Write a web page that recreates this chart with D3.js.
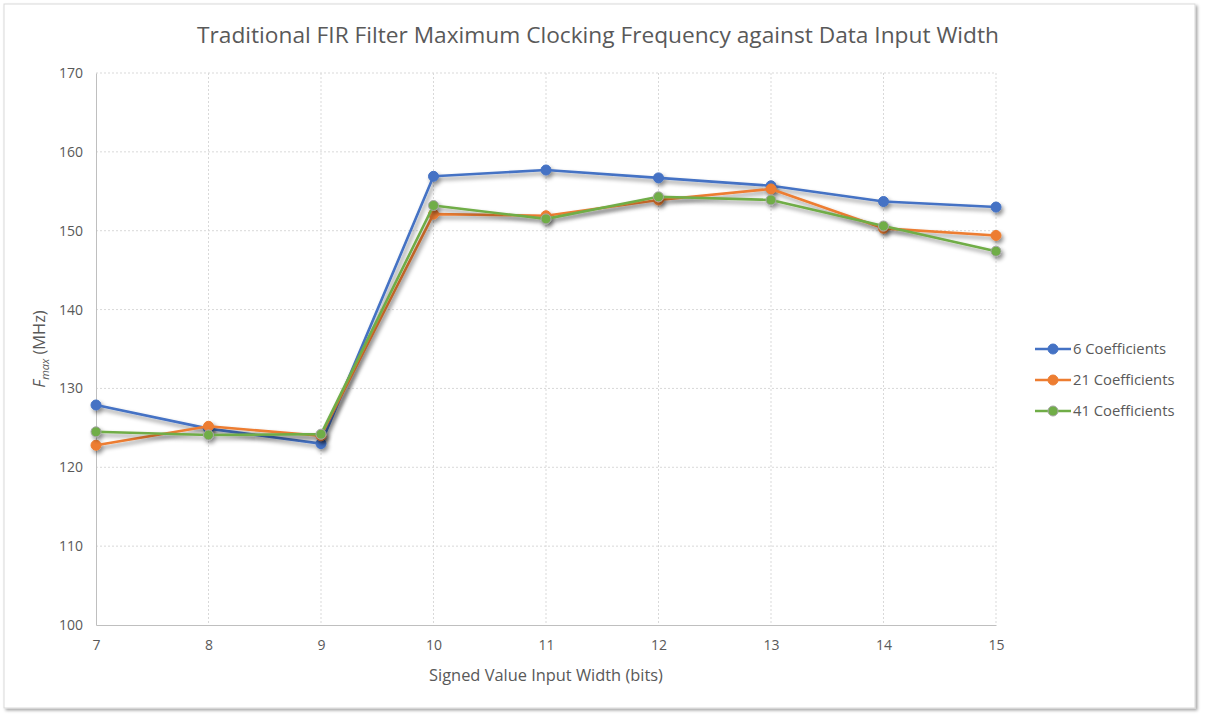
<!DOCTYPE html>
<html>
<head>
<meta charset="utf-8">
<script src="https://cdn.jsdelivr.net/npm/d3@7"></script>
<style>
  body { margin: 0; background: #fff; }
  text { font-family: "Open Sans", "Liberation Sans", sans-serif; fill: #595959; }
</style>
</head>
<body>
<div id="chart"></div>
<script>
// data
var widths = [7, 8, 9, 10, 11, 12, 13, 14, 15];
var coef6  = [127.9, 124.9, 123.0, 156.9, 157.7, 156.7, 155.7, 153.7, 153.0];
var coef21 = [122.8, 125.2, 124.0, 152.1, 151.9, 153.9, 155.3, 150.3, 149.4];
var coef41 = [124.5, 124.1, 124.2, 153.2, 151.5, 154.3, 153.9, 150.6, 147.4];
var yTicks = [100, 110, 120, 130, 140, 150, 160, 170];

var series = [
  { name: "6 Coefficients",  vals: coef6,  color: "#4472c4", ring: "#4472c4" },
  { name: "21 Coefficients", vals: coef21, color: "#ed7d31", ring: "#ed7d31" },
  { name: "41 Coefficients", vals: coef41, color: "#70ad47", ring: "#a5a5a5" }
];

var W = 1206, H = 720;
var margin = {top: 73, left: 96},
    width = 900,
    height = 552;

var svg = d3.select("#chart").append("svg")
    .attr("width", W)
    .attr("height", H);

var defs = svg.append("defs");
var shadow = defs.append("filter").attr("id", "shadow")
    .attr("x", "-20%").attr("y", "-20%").attr("width", "150%").attr("height", "150%");
shadow.append("feDropShadow")
    .attr("dx", 2).attr("dy", 3).attr("stdDeviation", 2)
    .attr("flood-color", "#000").attr("flood-opacity", 0.45);

var frameShadow = defs.append("filter").attr("id", "frameShadow")
    .attr("x", "-5%").attr("y", "-5%").attr("width", "110%").attr("height", "110%");
frameShadow.append("feDropShadow")
    .attr("dx", 2).attr("dy", 2).attr("stdDeviation", 1.5)
    .attr("flood-color", "#000").attr("flood-opacity", 0.35);

// chart frame
svg.append("rect")
    .attr("x", 4).attr("y", 4).attr("width", 1191).attr("height", 704)
    .attr("fill", "#fff").attr("stroke", "#d9d9d9").attr("stroke-width", 1)
    .attr("filter", "url(#frameShadow)");

var g = svg.append("g")
    .attr("transform", "translate(" + margin.left + "," + margin.top + ")");

var x = d3.scaleLinear().domain([7, 15]).range([0, width]);
var y = d3.scaleLinear().domain([100, 170]).range([height, 0]);

// gridlines
g.append("g").selectAll("line.h")
    .data(yTicks.slice(1))
  .enter().append("line")
    .attr("x1", 0).attr("x2", width)
    .attr("y1", function(d) { return y(d); })
    .attr("y2", function(d) { return y(d); })
    .attr("stroke", "#d9d9d9").attr("stroke-dasharray", "2,2");

g.append("g").selectAll("line.v")
    .data(widths.slice(1))
  .enter().append("line")
    .attr("y1", 0).attr("y2", height)
    .attr("x1", function(d) { return x(d); })
    .attr("x2", function(d) { return x(d); })
    .attr("stroke", "#d9d9d9").attr("stroke-dasharray", "2,2");

// axes
var xAxis = g.append("g")
    .attr("transform", "translate(0," + height + ")")
    .call(d3.axisBottom(x).tickValues(widths).tickSize(0).tickPadding(15).tickFormat(d3.format("d")));
xAxis.select(".domain").attr("stroke", "#bfbfbf");
xAxis.selectAll("text").style("font-size", "14px").attr("fill", "#595959");

var yAxis = g.append("g")
    .call(d3.axisLeft(y).tickValues(yTicks).tickSize(0).tickPadding(13));
yAxis.select(".domain").attr("stroke", "#bfbfbf");
yAxis.selectAll("text").style("font-size", "14px").attr("fill", "#595959");

// lines
var line = d3.line()
    .x(function(d, i) { return x(widths[i]); })
    .y(function(d) { return y(d); });

series.forEach(function(s) {
  var sg = g.append("g").attr("filter", "url(#shadow)");
  sg.append("path")
      .datum(s.vals)
      .attr("fill", "none")
      .attr("stroke", s.color)
      .attr("stroke-width", 2.6)
      .attr("stroke-linejoin", "round")
      .attr("d", line);
  sg.selectAll("circle")
      .data(s.vals)
    .enter().append("circle")
      .attr("cx", function(d, i) { return x(widths[i]); })
      .attr("cy", function(d) { return y(d); })
      .attr("r", 5)
      .attr("fill", s.color)
      .attr("stroke", s.ring)
      .attr("stroke-width", 1);
});

// title
svg.append("text")
    .attr("x", 598).attr("y", 43)
    .attr("text-anchor", "middle")
    .style("font-size", "22.7px")
    .text("Traditional FIR Filter Maximum Clocking Frequency against Data Input Width");

// x axis title
svg.append("text")
    .attr("x", margin.left + width / 2).attr("y", 681)
    .attr("text-anchor", "middle")
    .style("font-size", "16.4px")
    .text("Signed Value Input Width (bits)");

// y axis title
var yt = svg.append("text")
    .attr("transform", "translate(45," + (margin.top + height / 2) + ") rotate(-90)")
    .attr("text-anchor", "middle")
    .style("font-size", "16.4px");
yt.append("tspan").style("font-style", "italic").text("F");
yt.append("tspan").style("font-style", "italic").style("font-size", "11px").attr("dy", 4).text("max");
yt.append("tspan").attr("dy", -4).text(" (MHz)");

// legend
var legend = svg.append("g").attr("transform", "translate(1035,349)");
series.forEach(function(s, i) {
  var lg = legend.append("g").attr("transform", "translate(0," + i * 31 + ")");
  lg.append("line").attr("x1", 0).attr("x2", 36).attr("y1", 0).attr("y2", 0)
      .attr("stroke", s.color).attr("stroke-width", 2.6);
  lg.append("circle").attr("cx", 18).attr("cy", 0).attr("r", 5)
      .attr("fill", s.color).attr("stroke", s.ring).attr("stroke-width", 1);
  lg.append("text").attr("x", 38).attr("y", 5)
      .style("font-size", "14.8px").text(s.name);
});
</script>
</body>
</html>
